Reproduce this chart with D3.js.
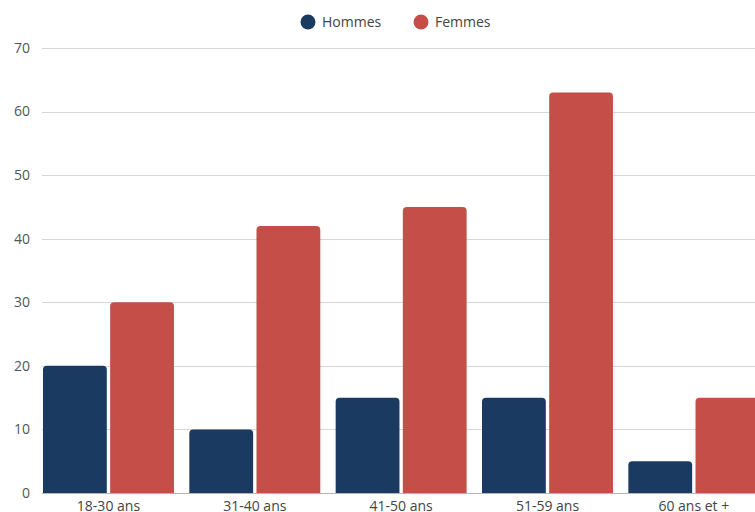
<!DOCTYPE html>
<html><head><meta charset="utf-8">
<script src="https://cdn.jsdelivr.net/npm/d3@7"></script>
<style>html,body{margin:0;padding:0;background:#fff;overflow:hidden}</style>
</head><body>
<svg id="c" width="755" height="512"></svg>
<script>
const categories = ["18-30 ans","31-40 ans","41-50 ans","51-59 ans","60 ans et +"];
const series = ["Hommes","Femmes"];
const hommes = [20,10,15,15,5];
const femmes = [30,42,45,63,15];
const yTicks = [0,10,20,30,40,50,60,70];
const colors = ["#1a3a62","#c54f48"];

const svg = d3.select("#c");
const font = "'Open Sans', sans-serif";
const y = d3.scaleLinear().domain([0,70]).range([493,48]);
const x = d3.scaleBand().domain(categories).range([35.3,767]).paddingInner(0.105).paddingOuter(0.0525);
const xs = d3.scaleBand().domain(series).range([0,x.bandwidth()]).paddingInner(0.05);

// grid
svg.append("g").selectAll("line").data(yTicks).join("line")
  .attr("x1",42).attr("x2",755)
  .attr("y1",d=>Math.round(y(d))+0.5).attr("y2",d=>Math.round(y(d))+0.5)
  .attr("stroke",d=>d===0?"#b5b5b5":"#d6d6d6").attr("stroke-width",1);

// y labels
svg.append("g").selectAll("text").data(yTicks).join("text")
  .attr("x",30).attr("y",d=>y(d)).attr("dy","0.35em")
  .attr("text-anchor","end").attr("font-family",font).attr("font-size",14)
  .attr("fill","#555").text(d=>d);

function topRounded(x0,y0,w,h,r){
  r=Math.min(r,h,w/2);
  return `M${x0},${y0+h}V${y0+r}Q${x0},${y0} ${x0+r},${y0}H${x0+w-r}Q${x0+w},${y0} ${x0+w},${y0+r}V${y0+h}Z`;
}
const data = [hommes,femmes];
series.forEach((s,si)=>{
  svg.append("g").selectAll("path").data(categories).join("path")
    .attr("d",(c,i)=>{
      const x0 = x(c)+xs(s), w = xs.bandwidth();
      const yt = y(data[si][i]);
      return topRounded(x0,yt,w,y(0)-yt,4);
    })
    .attr("fill",colors[si]);
});

// x labels
svg.append("g").selectAll("text").data(categories).join("text")
  .attr("x",c=>x(c)+x.bandwidth()/2).attr("y",511)
  .attr("text-anchor","middle").attr("font-family",font).attr("font-size",14)
  .attr("fill","#444").text(c=>c);

// legend
const legend = [{s:"Hommes",cx:308,tx:322},{s:"Femmes",cx:421,tx:435}];
const lg = svg.append("g");
legend.forEach((l,i)=>{
  lg.append("circle").attr("cx",l.cx).attr("cy",22).attr("r",7.5).attr("fill",colors[i]);
  lg.append("text").attr("x",l.tx).attr("y",22).attr("dy","0.35em")
    .attr("font-family",font).attr("font-size",14).attr("fill","#444").text(l.s);
});
</script>
</body></html>
